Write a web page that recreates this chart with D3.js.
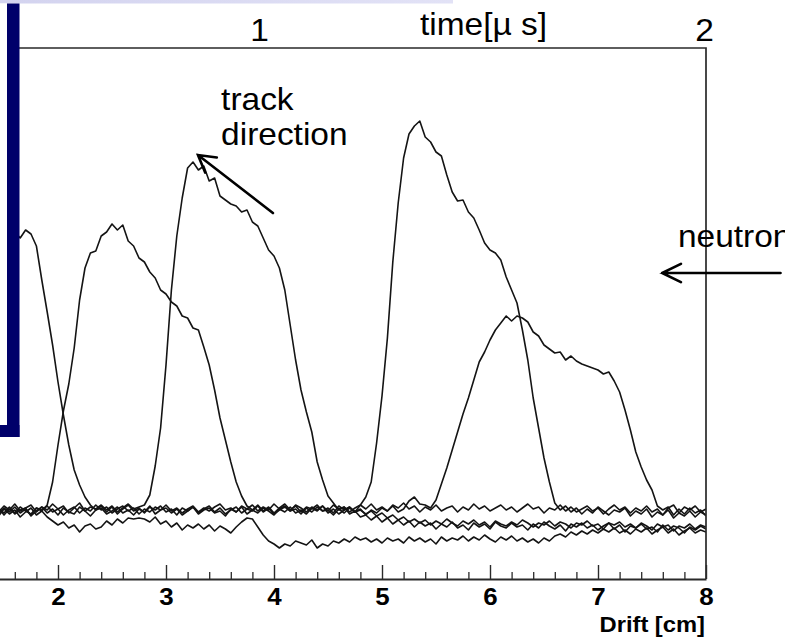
<!DOCTYPE html>
<html>
<head>
<meta charset="utf-8">
<script src="https://cdn.jsdelivr.net/npm/d3@7"></script>
<style>
  html, body { margin: 0; padding: 0; background: #fff; }
  svg { display: block; }
</style>
</head>
<body>
<svg id="chart" width="785" height="637"></svg>
<script>
// Drift sampling of every pulse trace (cm)
const driftStart = 1.40;
const driftStep = 0.05;

// Pulse amplitudes (arbitrary units), one value per drift sample
const traceA = [
  268, 275, 279, 275, 281, 275, 283, 279, 267, 233,
  201, 168, 131, 98, 68, 43, 28, 16, 8, 3,
  7, 1, 6, -1, 4, 8, 2, 5, 0, 6,
  3, 7, 1, 4, -2, 5, 2, 6, 0, 4,
  7, 1, 5, -1, 3, 6, 0, 4, 2, 7,
  1, 5, -1, 3, 6, 2, 4, -1, 5, 1,
  6, 2, 3, -2, 4, 0, 5, 1, 3, -1,
  2, -3, 0, -5, -2, -7, -4, -9, -6, -10,
  -7, -12, -8, -11, -6, -10, -13, -8, -11, -7,
  -12, -9, -14, -8, -11, -13, -9, -12, -7, -10,
  -14, -10, -12, -8, -13, -9, -11, -15, -10, -12,
  -8, -13, -11, -16, -10, -12, -9, -14, -11, -15,
  -10, -13, -17, -11, -14, -12, -18, -13, -15, -11,
  -16, -12, -14
];
const traceB = [
  3, -1, 5, 1, 6, 0, 4, -2, 5, 2,
  8, 31, 68, 102, 129, 165, 213, 245, 260, 262,
  277, 281, 289, 283, 288, 272, 267, 255, 251, 241,
  235, 223, 219, 211, 207, 197, 195, 185, 183, 166,
  148, 123, 95, 73, 51, 31, 17, 7, 3, 8,
  2, 6, 0, 5, 9, 3, 7, 1, 6, 4,
  8, 2, 5, 0, 7, 3, 6, 1, 8, 4,
  9, 3, 6, 2, 8, 5, 10, 4, 7, 1,
  6, 3, 8, 2, 5, 7, 1, 6, 3, 9,
  4, 7, 2, 5, 8, 3, 6, 1, 5, 9,
  4, 6, 0, 5, 3, 8, 2, 6, 1, 4,
  7, 2, 5, -1, 4, 8, 3, 6, 0, 5,
  2, 7, 1, 4, -2, 5, 8, 0, 6, 3,
  7, 1, 4
];
const traceC = [
  6, 1, 7, 3, 9, 2, 5, 8, 1, 6,
  3, 9, 4, 7, 0, 5, 10, 2, 6, 4,
  8, 3, 7, 1, 5, 9, 4, 6, 8, 18,
  47, 85, 148, 223, 277, 315, 345, 351, 343, 347,
  332, 335, 317, 313, 309, 307, 301, 303, 291, 287,
  275, 263, 257, 245, 223, 188, 153, 123, 101, 81,
  51, 33, 17, 10, 3, 6, -1, 2, -4, -2,
  -7, -3, -9, -5, -11, -7, -12, -8, -14, -9,
  -13, -10, -16, -11, -14, -9, -15, -12, -17, -10,
  -14, -11, -16, -9, -13, -15, -10, -14, -12, -17,
  -11, -15, -9, -13, -16, -12, -18, -11, -14, -10,
  -15, -12, -17, -13, -10, -16, -12, -19, -13, -15,
  -11, -16, -14, -19, -12, -17, -13, -15, -20, -14,
  -17, -13, -16
];
const traceD = [
  1, 5, -2, 4, 0, 6, 2, -1, 5, 3,
  7, 1, 4, -2, 3, 6, 0, 5, 2, 8,
  3, 6, 0, 4, 7, 2, 5, -1, 4, 1,
  6, 3, 8, 2, 5, 0, 4, 7, 1, 5,
  2, 6, 9, 3, 5, 1, 7, 4, 8, 2,
  6, 3, 9, 4, 7, 2, 8, 5, 1, 6,
  3, 7, 2, 8, 4, 6, 1, 5, 8, 16,
  31, 70, 117, 175, 251, 310, 355, 379, 387, 392,
  376, 371, 361, 357, 338, 321, 312, 313, 301, 295,
  283, 270, 263, 260, 253, 236, 223, 210, 183, 153,
  115, 85, 55, 31, 10, 3, 7, 1, 5, -1,
  4, 0, 6, 2, -2, 3, 1, 5, -3, 2,
  -1, 4, -4, 1, -2, 3, -5, 0, -3, 2,
  -4, 1, -2
];
const traceE = [
  -2, 4, 0, 6, -1, 3, 5, -3, 2, 6,
  0, 4, -2, 5, 1, -1, 6, 2, -3, 3,
  5, -1, 2, 6, 0, 3, -2, 4, 1, 7,
  -1, 3, 5, 0, 4, -2, 2, 6, -1, 3,
  5, 0, 2, -3, 4, 1, 6, -1, 3, 0,
  5, 2, -2, 4, 1, 6, 0, 3, -1, 5,
  2, 7, 0, 4, -1, 3, 6, 1, 4, -2,
  3, 0, 5, 2, 7, 1, 4, 12, 16, 9,
  8, 5, 13, 29, 45, 63, 81, 99, 115, 133,
  151, 161, 173, 183, 190, 197, 192, 197, 195, 191,
  181, 177, 168, 164, 160, 161, 153, 157, 152, 149,
  147, 145, 143, 139, 141, 132, 121, 103, 83, 61,
  46, 33, 23, 7, 3, 6, -2, 4, -1, 5,
  0, 3, -3
];
const traceF = [
  2, -3, 4, -1, 3, -4, 1, 5, -2, 2,
  -4, -8, -12, -9, -15, -12, -19, -13, -11, -16,
  -14, -8, -12, -6, -10, -5, -6, -5, -6, -9,
  -4, -11, -8, -14, -10, -17, -12, -15, -11, -16,
  -12, -18, -13, -16, -20, -14, -9, -5, -6, -14,
  -22, -28, -31, -35, -31, -33, -28, -30, -32, -27,
  -35, -31, -33, -28, -30, -26, -29, -24, -27, -25,
  -29, -26, -30, -25, -28, -26, -30, -24, -28, -25,
  -29, -26, -31, -24, -28, -25, -27, -23, -28, -24,
  -27, -22, -26, -29, -24, -27, -23, -28, -25, -29,
  -26, -30, -25, -28, -23, -21, -24, -19, -22, -18,
  -21, -17, -20, -16, -19, -15, -20, -17, -21, -16,
  -19, -15, -21, -17, -14, -20, -16, -22, -18, -15,
  -20, -17, -19
];
const traces = [traceF, traceE, traceD, traceC, traceB, traceA];

// Axis ticks
const driftTicks = [2, 3, 4, 5, 6, 7, 8];
const driftMinorTicks = [1.6, 1.8, 2.2, 2.4, 2.6, 2.8, 3.2, 3.4, 3.6, 3.8,
  4.2, 4.4, 4.6, 4.8, 5.2, 5.4, 5.6, 5.8, 6.2, 6.4, 6.6, 6.8,
  7.2, 7.4, 7.6, 7.8];
const timeTicks = [1, 2];
const driftTitle = "Drift [cm]";
const timeTitle = "time[µ s]";

// Annotations in drift / amplitude units
const trackLabel = { lines: ["track", "direction"], at: [3.51, 403], lineGap: 35 };
const trackArrow = { from: [3.99, 300], to: [3.296, 358] };
const neutronLabel = { text: "neutron", at: [7.74, 266] };
const neutronArrow = { from: [8.69, 240], to: [7.593, 240] };

const svg = d3.select("#chart");
const FONT = "'Liberation Sans', Arial, Helvetica, sans-serif";
const STRETCH = 1.08;

const x = d3.scaleLinear().domain([driftStart, 8]).range([-6.8, 706]);
const y = d3.scaleLinear().domain([-66, 465]).range([579, 48]);
const t = d3.scaleLinear().domain([1, 2]).range([259, 704]);

const [x0, x1] = x.range();
const [yBottom, yTop] = y.range();

// Slide header band
const defs = svg.append("defs");
const grad = defs.append("linearGradient").attr("id", "band").attr("x1", "0").attr("x2", "1");
grad.append("stop").attr("offset", "0").attr("stop-color", "#d3d3ef");
grad.append("stop").attr("offset", "1").attr("stop-color", "#e2e2f6");
svg.append("rect").attr("x", 0).attr("y", 0).attr("width", 453).attr("height", 3.5)
  .attr("fill", "url(#band)");

defs.append("clipPath").attr("id", "plotclip")
  .append("rect").attr("x", x0).attr("y", yTop).attr("width", x1 - x0).attr("height", yBottom - yTop);

// Pulse traces
const line = d3.line()
  .x((v, i) => x(driftStart + i * driftStep))
  .y(v => y(v));

svg.append("g").attr("clip-path", "url(#plotclip)")
  .selectAll("path").data(traces).join("path")
  .attr("d", line)
  .attr("fill", "none")
  .attr("stroke", "#141414")
  .attr("stroke-width", 1.6)
  .attr("stroke-linejoin", "round");

// Frame: top and right edges
svg.append("path")
  .attr("d", `M${x0},${yTop}H${x1}V${yBottom}`)
  .attr("fill", "none").attr("stroke", "#2a2a2a").attr("stroke-width", 1.7);

// Bottom drift axis
const gx = svg.append("g").attr("transform", `translate(0,${yBottom})`)
  .call(d3.axisBottom(x).tickValues(driftTicks).tickSizeInner(-14).tickSizeOuter(0)
    .tickPadding(9).tickFormat(d3.format("d")));
gx.select(".domain").attr("stroke", "#2a2a2a").attr("stroke-width", 2);
gx.selectAll(".tick line").attr("stroke", "#2a2a2a").attr("stroke-width", 1.4);
gx.selectAll(".tick text")
  .attr("font-family", FONT).attr("font-weight", "bold").attr("font-size", 24)
  .attr("fill", "#000").attr("transform", `scale(${STRETCH},1)`);

const gxm = svg.append("g").attr("transform", `translate(0,${yBottom})`)
  .call(d3.axisBottom(x).tickValues(driftMinorTicks).tickSizeInner(-7).tickSizeOuter(0).tickFormat(""));
gxm.select(".domain").remove();
gxm.selectAll(".tick line").attr("stroke", "#2a2a2a").attr("stroke-width", 1.3);

svg.append("text")
  .attr("transform", `translate(${x1 - 1},632) scale(${STRETCH},1)`)
  .attr("text-anchor", "end")
  .attr("font-family", FONT).attr("font-weight", "bold").attr("font-size", 22)
  .attr("fill", "#000").text(driftTitle);

// Top time axis
const gt = svg.append("g").attr("transform", `translate(0,${yTop})`)
  .call(d3.axisTop(t).tickValues(timeTicks).tickSize(0).tickPadding(7).tickFormat(d3.format("d")));
gt.select(".domain").remove();
gt.selectAll(".tick text")
  .attr("font-family", FONT).attr("font-size", 31).attr("fill", "#000")
  .attr("transform", `scale(${STRETCH},1)`);

svg.append("text")
  .attr("transform", `translate(420,35) scale(${STRETCH},1)`)
  .attr("font-family", FONT).attr("font-size", 31).attr("fill", "#000")
  .text(timeTitle);

// Arrow helper: shaft plus open head at the "to" end
function arrow(a, len, angleDeg) {
  const fx = x(a.from[0]), fy = y(a.from[1]);
  const tx = x(a.to[0]), ty = y(a.to[1]);
  const ang = Math.atan2(fy - ty, fx - tx);
  const da = angleDeg * Math.PI / 180;
  const p1 = [tx + len * Math.cos(ang + da), ty + len * Math.sin(ang + da)];
  const p2 = [tx + len * Math.cos(ang - da), ty + len * Math.sin(ang - da)];
  svg.append("path")
    .attr("d", `M${fx},${fy}L${tx},${ty}M${p1[0]},${p1[1]}L${tx},${ty}L${p2[0]},${p2[1]}`)
    .attr("fill", "none").attr("stroke", "#000").attr("stroke-width", 2.6)
    .attr("stroke-linecap", "round").attr("stroke-linejoin", "miter");
}
arrow(trackArrow, 19, 30);
arrow(neutronArrow, 21, 26);

trackLabel.lines.forEach((s, k) => {
  svg.append("text")
    .attr("transform", `translate(${x(trackLabel.at[0])},${y(trackLabel.at[1]) + k * trackLabel.lineGap}) scale(${STRETCH},1)`)
    .attr("font-family", FONT).attr("font-size", 31).attr("fill", "#000").text(s);
});
svg.append("text")
  .attr("transform", `translate(${x(neutronLabel.at[0])},${y(neutronLabel.at[1])}) scale(${STRETCH},1)`)
  .attr("font-family", FONT).attr("font-size", 31).attr("fill", "#000").text(neutronLabel.text);

// Overlapping slide box with navy border
svg.append("rect").attr("x", 0).attr("y", 3.5).attr("width", 7).attr("height", 421.5).attr("fill", "#fff");
svg.append("rect").attr("x", 7).attr("y", 3.5).attr("width", 12.5).attr("height", 433.5).attr("fill", "#00006a");
svg.append("rect").attr("x", 0).attr("y", 425).attr("width", 19.5).attr("height", 12).attr("fill", "#00006a");
</script>
</body>
</html>
